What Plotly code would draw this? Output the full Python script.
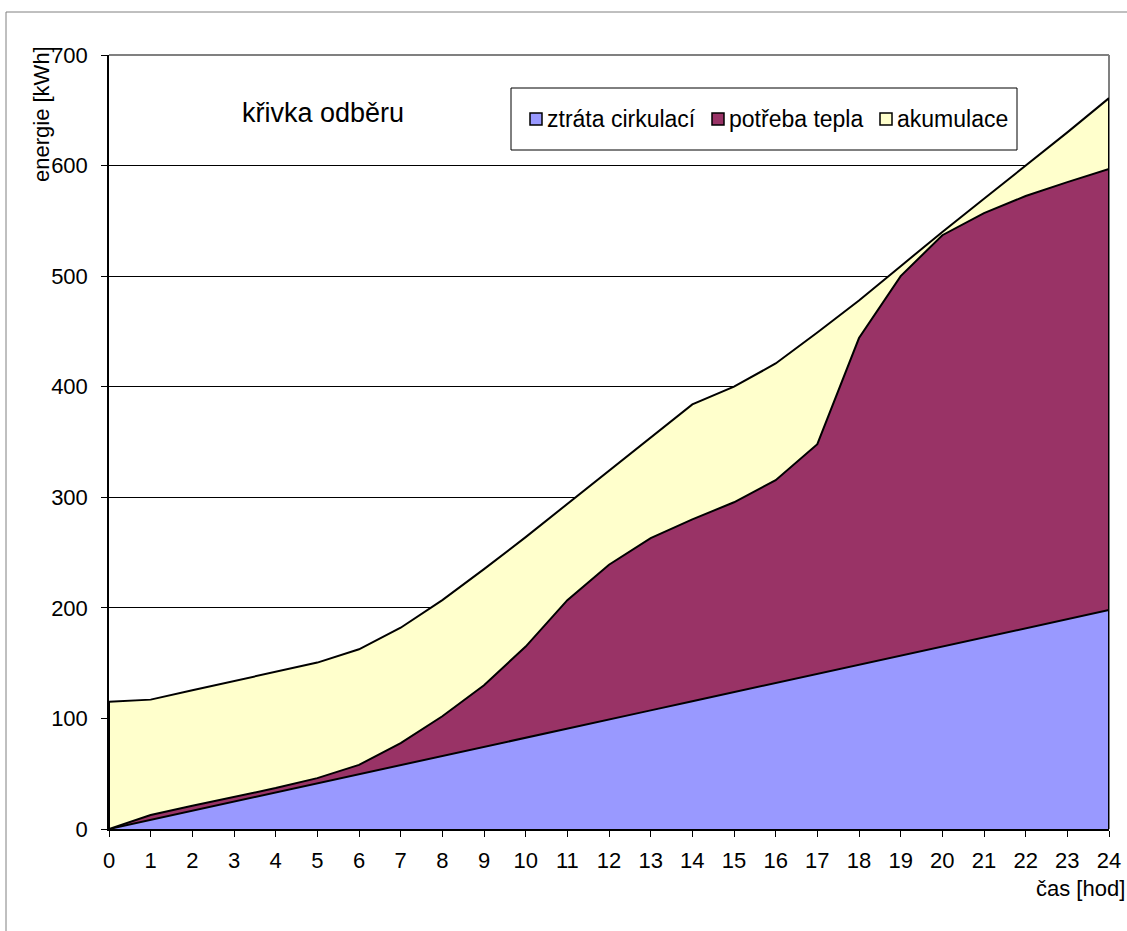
import plotly.graph_objects as go

# ---- data ----
hours = list(range(0, 25))
x_ticks = list(range(0, 25))
y_ticks = [0, 100, 200, 300, 400, 500, 600, 700]

# upper boundary of each stacked layer [kWh]
ztrata_cirkulaci = [0, 8.3, 16.5, 24.8, 33, 41.3, 49.5, 57.8, 66, 74.3, 82.5, 90.8, 99,
                    107.3, 115.5, 123.8, 132, 140.3, 148.5, 156.8, 165, 173.3, 181.5, 189.8, 198]
potreba_tepla_cum = [0, 12.7, 21, 29, 37, 46, 58, 77.6, 102, 130, 165, 207, 239,
                     263, 280, 295.5, 315.5, 348, 444, 500, 537, 557, 572.5, 585, 597]
akumulace_cum = [115, 117, 125.5, 134, 142, 150.5, 162.5, 182, 207, 235, 264, 294, 324,
                 354, 384, 400, 421, 449, 478, 509, 540, 570, 600, 630, 661]

names = ["ztráta cirkulací", "potřeba tepla", "akumulace"]
colors = ["#9999FF", "#993366", "#FFFFCC"]

FONT = "Liberation Sans, Arial, sans-serif"

# plot area in pixels
L, R, T, B = 109, 1109, 55, 829
W, H = 1127, 931
def px(x):
    return (x - L) / (R - L)
def py(y):
    return (B - y) / (B - T)

fig = go.Figure()
line = dict(color="black", width=2)
fig.add_trace(go.Scatter(x=hours, y=ztrata_cirkulaci, mode="lines", line=line,
                         fill="tozeroy", fillcolor=colors[0], showlegend=False, name=names[0]))
fig.add_trace(go.Scatter(x=hours, y=potreba_tepla_cum, mode="lines", line=line,
                         fill="tonexty", fillcolor=colors[1], showlegend=False, name=names[1]))
fig.add_trace(go.Scatter(x=hours, y=akumulace_cum, mode="lines", line=line,
                         fill="tonexty", fillcolor=colors[2], showlegend=False, name=names[2]))
# vertical outline edges of the area block
fig.add_trace(go.Scatter(x=[hours[0], hours[0]], y=[0, akumulace_cum[0]], mode="lines",
                         line=line, showlegend=False, hoverinfo="skip"))
fig.add_trace(go.Scatter(x=[hours[-1], hours[-1]], y=[0, akumulace_cum[-1]], mode="lines",
                         line=line, showlegend=False, hoverinfo="skip"))

shapes = [
    # outer chart frame
    dict(type="rect", xref="paper", yref="paper", x0=px(6), x1=px(1145), y0=py(945), y1=py(12),
         line=dict(color="#808080", width=1), fillcolor="rgba(0,0,0,0)", layer="below"),
    # plot area top / right border
    dict(type="line", xref="paper", yref="paper", x0=0, x1=1, y0=1, y1=1,
         line=dict(color="#808080", width=2), layer="above"),
    dict(type="line", xref="paper", yref="paper", x0=1, x1=1, y0=0, y1=1,
         line=dict(color="#808080", width=2), layer="below"),
    # legend box
    dict(type="rect", xref="paper", yref="paper", x0=px(511), x1=px(1017), y0=py(150), y1=py(88),
         line=dict(color="black", width=1), fillcolor="white", layer="above"),
]

annotations = [
    dict(text="křivka odběru", xref="paper", yref="paper", x=px(323), y=py(113),
         showarrow=False, xanchor="center", yanchor="middle",
         font=dict(family=FONT, size=27, color="black")),
    dict(text="energie [kWh]", xref="paper", yref="paper", x=px(41), y=py(114),
         showarrow=False, xanchor="center", yanchor="middle", textangle=-90,
         font=dict(family=FONT, size=22, color="black")),
    dict(text="čas [hod]", xref="paper", yref="paper", x=px(1127), y=py(888),
         showarrow=False, xanchor="right", yanchor="middle",
         font=dict(family=FONT, size=22, color="black")),
]

# legend entries (marker square + label), laid out like the original legend box
legend_marker_px = [536, 718, 886]
for n, c, mx in zip(names, colors, legend_marker_px):
    shapes.append(dict(type="rect", xref="paper", yref="paper",
                       x0=px(mx - 6), x1=px(mx + 6), y0=py(125), y1=py(113),
                       line=dict(color="black", width=1.5), fillcolor=c, layer="above"))
    annotations.append(dict(text=n, xref="paper", yref="paper", x=px(mx + 9), y=py(119),
                            showarrow=False, xanchor="left", yanchor="middle",
                            font=dict(family=FONT, size=23, color="black")))

fig.update_layout(
    width=W, height=H,
    margin=dict(l=L, r=W - R, t=T, b=H - B, pad=0, autoexpand=False),
    paper_bgcolor="white", plot_bgcolor="white",
    font=dict(family=FONT, size=22, color="black"),
    shapes=shapes, annotations=annotations,
    showlegend=False,
)
fig.update_xaxes(range=[0, 24], tickvals=x_ticks, ticktext=[str(t) for t in x_ticks],
                 ticks="outside", ticklen=6, tickcolor="black", tickwidth=1,
                 showline=True, linecolor="black", linewidth=2, showgrid=False, zeroline=False,
                 automargin=False,
                 tickfont=dict(family=FONT, size=22, color="black"), ticklabelstandoff=5)
fig.update_yaxes(range=[0, 700], tickvals=y_ticks, ticktext=[str(t) for t in y_ticks],
                 ticks="outside", ticklen=6, tickcolor="black", tickwidth=1,
                 showline=True, linecolor="black", linewidth=1.5,
                 showgrid=True, gridcolor="black", gridwidth=1, zeroline=False,
                 automargin=False,
                 tickfont=dict(family=FONT, size=22, color="black"), ticklabelstandoff=9)

fig.write_html("out.html")
